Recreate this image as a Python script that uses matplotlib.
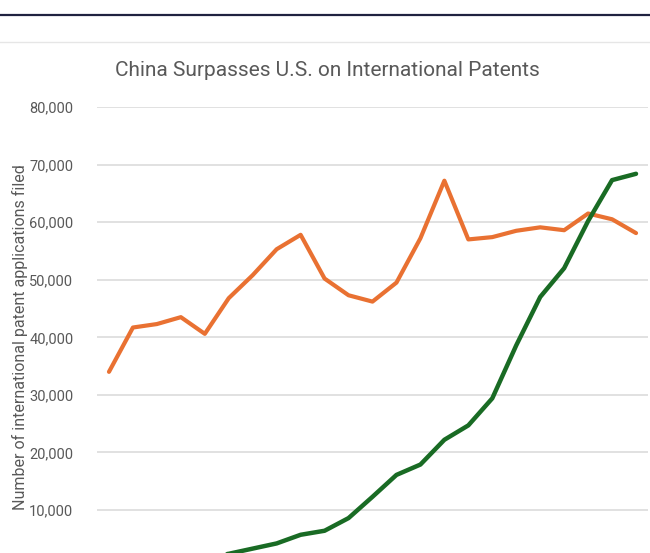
import matplotlib.pyplot as plt
from matplotlib.lines import Line2D
from matplotlib.ticker import FuncFormatter

years = list(range(2000, 2023))
us_filings = [34000, 41700, 42300, 43500, 40600, 46800, 50800, 55300, 57800,
              50200, 47300, 46200, 49500, 57200, 67200, 57000, 57400, 58500,
              59100, 58600, 61500, 60500, 58100]
china_filings = [800, 1000, 1200, 1400, 1800, 2400, 3300, 4200, 5700,
                 6400, 8600, 12300, 16100, 17900, 22200, 24700, 29400, 38600,
                 47000, 52000, 60200, 67300, 68400]

plt.rcParams['font.family'] = ['Roboto', 'DejaVu Sans']

fig = plt.figure(figsize=(6.5, 5.53), dpi=100)
fig.patch.set_facecolor('white')

# page rules above the chart
fig.add_artist(Line2D([0, 1], [1 - 14.5 / 553] * 2, color='#1f2240', lw=1.6))
fig.add_artist(Line2D([0, 1], [1 - 42 / 553] * 2, color='#e6e6e6', lw=1.0))

ax = fig.add_axes([97 / 650, -14.6 / 553, 551 / 650, 460.6 / 553])
x = range(len(years))
ax.plot(x, us_filings, color='#E97132', lw=3.0, solid_joinstyle='round',
        solid_capstyle='round', zorder=3)
ax.plot(x, china_filings, color='#196B24', lw=3.2, solid_joinstyle='round',
        solid_capstyle='round', zorder=3)

ax.set_xlim(-0.5, len(years) - 0.5)
ax.set_ylim(0, 80000)
ax.set_yticks(range(10000, 80001, 10000))
ax.yaxis.set_major_formatter(FuncFormatter(lambda v, p: f'{int(v):,}'))
# the year axis sits below the visible area
ax.set_xticks([])
ax.grid(axis='y', color='#d9d9d9', lw=1.1)
ax.set_axisbelow(True)
for s in ax.spines.values():
    s.set_visible(False)
ax.tick_params(axis='y', length=0, pad=17, labelsize=10.5, labelcolor='#595959')

fig.text(20 / 650, 1 - 337 / 553, 'Number of international patent applications filed',
         rotation=90, ha='center', va='center', fontsize=11.5, color='#595959')
fig.text(327 / 650, 1 - 71 / 553, 'China Surpasses U.S. on International Patents',
         ha='center', va='center', fontsize=15, color='#595959')

fig.savefig('out.png', dpi=100)
